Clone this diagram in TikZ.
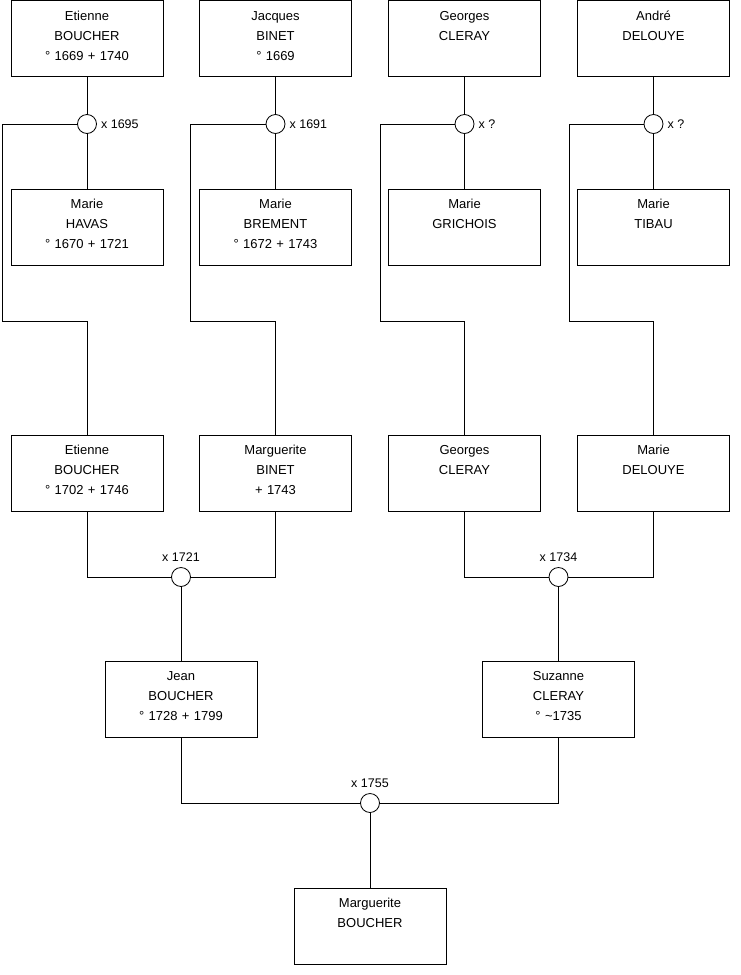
\documentclass[tikz,border=0pt]{standalone}
\usepackage{fontspec}
\setmainfont{Liberation Sans}
\usetikzlibrary{positioning}

\tikzset{
  person/.style={draw, line width=0.8pt, inner sep=0pt, text width=152pt, align=center,
    text height=19.5pt, text depth=56.5pt, font=\fontsize{13}{20}\selectfont},
  wed/.style={circle, draw, fill=white, line width=0.8pt, minimum size=19pt, inner sep=0pt},
  wedlabel/.style={inner sep=0pt, font=\fontsize{12.5}{14}\selectfont},
  link/.style={line width=0.8pt}
}

\begin{document}
\begin{tikzpicture}[x=1pt, y=-1pt]
  \useasboundingbox (0,0) rectangle (740,975);

  % Parameters (columns and rows, in px)
  \def\cA{87}  \def\cB{275.5} \def\cC{464.5} \def\cD{653.5}
  \def\rA{38.5} \def\rB{227} \def\rC{473} \def\rD{699} \def\rE{926}

  % Great-grandparents
  \node[person] (eb1) at (\cA,\rA) {Etienne\\BOUCHER\\° 1669 + 1740};
  \node[person] (jb1) at (\cB,\rA) {Jacques\\BINET\\° 1669};
  \node[person] (gc1) at (\cC,\rA) {Georges\\CLERAY};
  \node[person] (ad1) at (\cD,\rA) {André\\DELOUYE};

  \node[person] (mh1) at (\cA,\rB) {Marie\\HAVAS\\° 1670 + 1721};
  \node[person] (mb1) at (\cB,\rB) {Marie\\BREMENT\\° 1672 + 1743};
  \node[person] (mg1) at (\cC,\rB) {Marie\\GRICHOIS};
  \node[person] (mt1) at (\cD,\rB) {Marie\\TIBAU};

  % Grandparents
  \node[person] (eb2) at (\cA,\rC) {Etienne\\BOUCHER\\° 1702 + 1746};
  \node[person] (mb2) at (\cB,\rC) {Marguerite\\BINET\\+ 1743};
  \node[person] (gc2) at (\cC,\rC) {Georges\\CLERAY};
  \node[person] (md2) at (\cD,\rC) {Marie\\DELOUYE};

  % Parents
  \node[person] (jb3) at (181,\rD) {Jean\\BOUCHER\\° 1728 + 1799};
  \node[person] (sc3) at (558.5,\rD) {Suzanne\\CLERAY\\° \textasciitilde1735};

  \node[person] (mb4) at (370,\rE) {Marguerite\\BOUCHER};

  % Marriages
  \node[wed] (w1) at (\cA,124) {};
  \node[wed] (w2) at (\cB,124) {};
  \node[wed] (w3) at (\cC,124) {};
  \node[wed] (w4) at (\cD,124) {};
  \node[wed] (w5) at (181,577) {};
  \node[wed] (w6) at (558.5,577) {};
  \node[wed] (w7) at (370,803) {};

  \node[wedlabel, right=4pt of w1] (x1) {x 1695};
  \node[wedlabel, right=4pt of w2] (x2) {x 1691};
  \node[wedlabel, right=4pt of w3] (x3) {x ?};
  \node[wedlabel, right=4pt of w4] (x4) {x ?};
  \node[wedlabel, above=5pt of w5] (x5) {x 1721};
  \node[wedlabel, above=5pt of w6] (x6) {x 1734};
  \node[wedlabel, above=5pt of w7] (x7) {x 1755};

  % Bends of the side lines
  \coordinate (k1) at (2.5,321.5);
  \coordinate (k2) at (190.5,321.5);
  \coordinate (k3) at (380,321.5);
  \coordinate (k4) at (569.5,321.5);

  \begin{scope}[link]
    \draw (eb1) -- (w1) -- (mh1);
    \draw (jb1) -- (w2) -- (mb1);
    \draw (gc1) -- (w3) -- (mg1);
    \draw (ad1) -- (w4) -- (mt1);

    \draw (w1) -| (k1) -| (eb2);
    \draw (w2) -| (k2) -| (mb2);
    \draw (w3) -| (k3) -| (gc2);
    \draw (w4) -| (k4) -| (md2);

    \draw (eb2) |- (w5) -| (mb2);
    \draw (gc2) |- (w6) -| (md2);
    \draw (w5) -- (jb3);
    \draw (w6) -- (sc3);

    \draw (jb3) |- (w7) -| (sc3);
    \draw (w7) -- (mb4);
  \end{scope}
\end{tikzpicture}
\end{document}
